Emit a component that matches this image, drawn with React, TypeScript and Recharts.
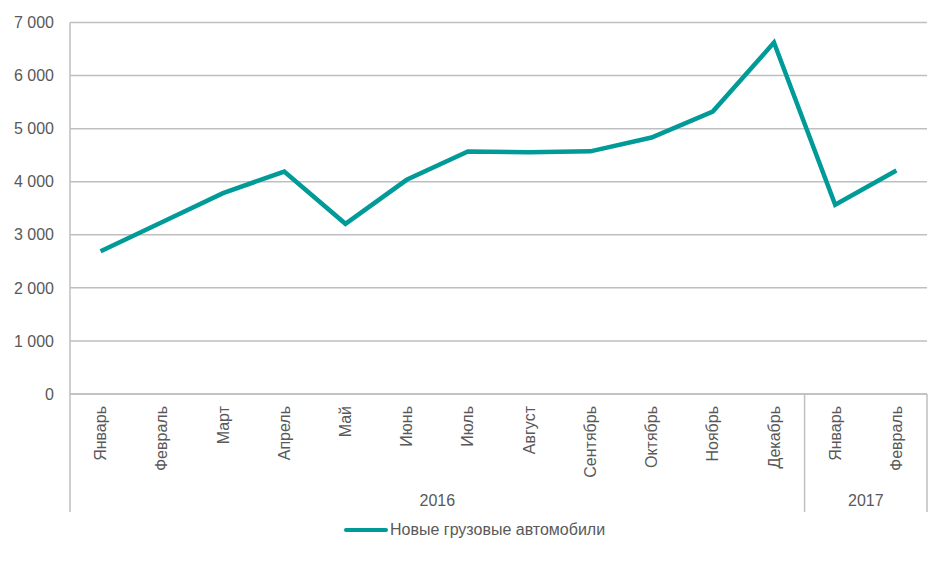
import { LineChart, Line, XAxis, YAxis, CartesianGrid, Legend } from "recharts";

const MONTHS = [
  "Январь", "Февраль", "Март", "Апрель", "Май", "Июнь", "Июль",
  "Август", "Сентябрь", "Октябрь", "Ноябрь", "Декабрь", "Январь", "Февраль",
];
const PERIOD_KEYS = [
  "2016-01", "2016-02", "2016-03", "2016-04", "2016-05", "2016-06", "2016-07",
  "2016-08", "2016-09", "2016-10", "2016-11", "2016-12", "2017-01", "2017-02",
];
const YEARS = ["2016", "2017"];
const YEAR_MONTH_COUNTS = [12, 2];
const TRUCKS = [2690, 3235, 3785, 4192, 3207, 4036, 4569, 4557, 4572, 4833, 5322, 6622, 3565, 4211];
const Y_TICKS = [0, 1000, 2000, 3000, 4000, 5000, 6000, 7000];
const SERIES_NAME = "Новые грузовые автомобили";

const W = 950;
const H = 566;
const MARGIN = { top: 22.5, right: 23, bottom: 54, left: 0 };
const Y_AXIS_W = 70;
const X_AXIS_H = 118;
const STEP = (W - MARGIN.left - MARGIN.right - Y_AXIS_W) / MONTHS.length;
const TEAL = "#009a98";
const GRID = "#bfbfbf";
const TEXT = "#595959";

const data = PERIOD_KEYS.map((key, i) => ({ key, value: TRUCKS[i] }));

// index of first month of each year group
const groupStarts: number[] = [];
YEAR_MONTH_COUNTS.reduce((acc, n) => {
  groupStarts.push(acc);
  return acc + n;
}, 0);

const fmt = (v: number) => v.toLocaleString("ru-RU").replace(/\s/g, " ");

function MonthTick(props: any) {
  const { x, y, payload } = props;
  const i = payload.index;
  const half = STEP / 2;
  const bottom = y + X_AXIS_H;
  const g = groupStarts.indexOf(i);
  const ty = y + 12;
  return (
    <g>
      <text
        x={x}
        y={ty}
        dy="0.35em"
        transform={`rotate(-90 ${x} ${ty})`}
        textAnchor="end"
        fill={TEXT}
        fontSize={16}
      >
        {MONTHS[i]}
      </text>
      {g >= 0 && (
        <>
          <line x1={x - half} y1={y} x2={x - half} y2={bottom} stroke={GRID} strokeWidth={1.5} />
          <text
            x={x - half + (YEAR_MONTH_COUNTS[g] * STEP) / 2}
            y={bottom - 6}
            textAnchor="middle"
            fill={TEXT}
            fontSize={16}
          >
            {YEARS[g]}
          </text>
        </>
      )}
      {i === MONTHS.length - 1 && (
        <line x1={x + half} y1={y} x2={x + half} y2={bottom} stroke={GRID} strokeWidth={1.5} />
      )}
    </g>
  );
}

function LegendContent() {
  return (
    <div style={{ display: "flex", alignItems: "center", height: 20 }}>
      <svg width={44} height={10}>
        <line x1={2} y1={5} x2={42} y2={5} stroke={TEAL} strokeWidth={4} strokeLinecap="round" />
      </svg>
      <span style={{ marginLeft: 2, color: TEXT, fontSize: 16 }}>{SERIES_NAME}</span>
    </div>
  );
}

export default function App() {
  return (
    <div
      style={{
        position: "absolute",
        left: 0,
        top: 0,
        width: W,
        height: H,
        background: "#fff",
        fontFamily: "'Liberation Sans', Arial, sans-serif",
      }}
    >
      <LineChart width={W} height={H} data={data} margin={MARGIN}>
        <CartesianGrid vertical={false} stroke={GRID} strokeWidth={1.5} />
        <XAxis
          dataKey="key"
          height={X_AXIS_H}
          interval={0}
          padding={{ left: STEP / 2, right: STEP / 2 }}
          tickLine={false}
          tickSize={0}
          tickMargin={0}
          axisLine={{ stroke: GRID, strokeWidth: 1.5 }}
          tick={<MonthTick />}
        />
        <YAxis
          width={Y_AXIS_W}
          domain={[0, 7000]}
          ticks={Y_TICKS}
          tickFormatter={fmt}
          tickLine={false}
          tickSize={0}
          tickMargin={16}
          axisLine={{ stroke: GRID, strokeWidth: 1.5 }}
          tick={{ fill: TEXT, fontSize: 16 }}
        />
        <Legend
          layout="horizontal"
          verticalAlign="middle"
          align="center"
          wrapperStyle={{ top: 520, left: 344, width: 400 }}
          content={<LegendContent />}
        />
        <Line
          type="linear"
          dataKey="value"
          name={SERIES_NAME}
          stroke={TEAL}
          strokeWidth={4.5}
          dot={false}
          activeDot={false}
          isAnimationActive={false}
        />
      </LineChart>
    </div>
  );
}
